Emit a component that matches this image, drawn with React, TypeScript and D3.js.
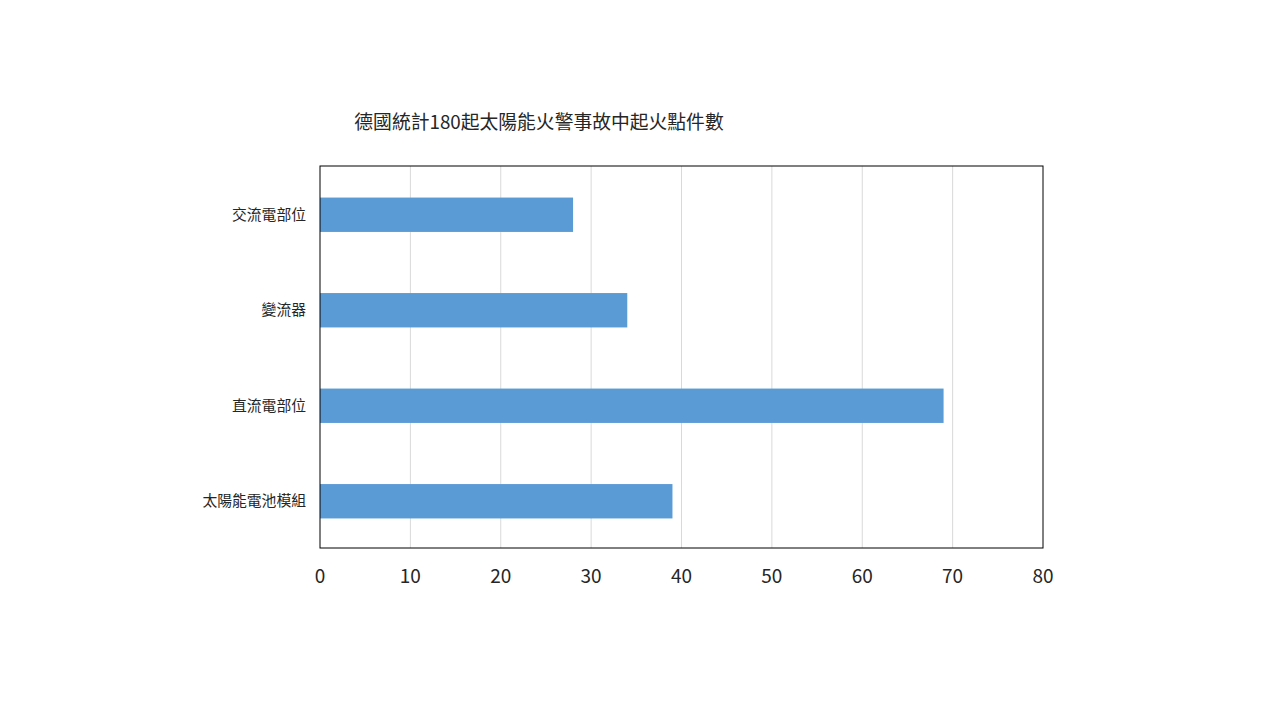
import * as d3 from 'd3'
import { FC } from 'react'

const categories: string[] = ['交流電部位', '變流器', '直流電部位', '太陽能電池模組']
const counts: number[] = [28, 34, 69, 39]
const xTicks: number[] = [0, 10, 20, 30, 40, 50, 60, 70, 80]
const title = '德國統計180起太陽能火警事故中起火點件數'

const App: FC = () => {
    const dimensions = { width: 1280, height: 720 }
    const plot = { left: 320, right: 1043, top: 166, bottom: 548 }
    const font = '"Noto Sans CJK TC", "Noto Sans", sans-serif'

    const x = d3.scaleLinear()
        .domain([0, 80])
        .range([plot.left, plot.right])

    const y = d3.scaleBand()
        .domain(categories)
        .range([plot.top + 1, plot.bottom + 1])
        .paddingInner(0.64)
        .paddingOuter(0.32)

    return (
        <svg
            width={dimensions.width}
            height={dimensions.height}
            style={{ position: 'absolute', left: 0, top: 0, background: '#fff' }}
        >
            <text
                x={539}
                y={129}
                textAnchor="middle"
                fontFamily={font}
                fontSize={18.8}
                fill="#262626"
            >
                {title}
            </text>
            {/* vertical grid lines */}
            {xTicks.slice(1, -1).map(t => (
                <line
                    key={t}
                    x1={x(t)}
                    x2={x(t)}
                    y1={plot.top}
                    y2={plot.bottom}
                    stroke="#d9d9d9"
                    strokeWidth={1}
                />
            ))}
            {/* bars */}
            {categories.map((c, i) => (
                <rect
                    key={c}
                    x={x(0)}
                    y={y(c)}
                    width={x(counts[i]) - x(0)}
                    height={y.bandwidth()}
                    fill="#5b9bd5"
                />
            ))}
            {/* plot border */}
            <rect
                x={plot.left}
                y={plot.top}
                width={plot.right - plot.left}
                height={plot.bottom - plot.top}
                fill="none"
                stroke="#000"
                strokeWidth={1}
            />
            {/* category labels */}
            {categories.map(c => (
                <text
                    key={c}
                    x={plot.left - 14}
                    y={y(c)! + y.bandwidth() / 2}
                    dy="0.35em"
                    textAnchor="end"
                    fontFamily={font}
                    fontSize={14.8}
                    fill="#262626"
                >
                    {c}
                </text>
            ))}
            {/* x tick labels */}
            {xTicks.map(t => (
                <text
                    key={t}
                    x={x(t)}
                    y={576}
                    dy="0.35em"
                    textAnchor="middle"
                    fontFamily={font}
                    fontSize={19}
                    fill="#262626"
                >
                    {t}
                </text>
            ))}
        </svg>
    )
}

export default App
